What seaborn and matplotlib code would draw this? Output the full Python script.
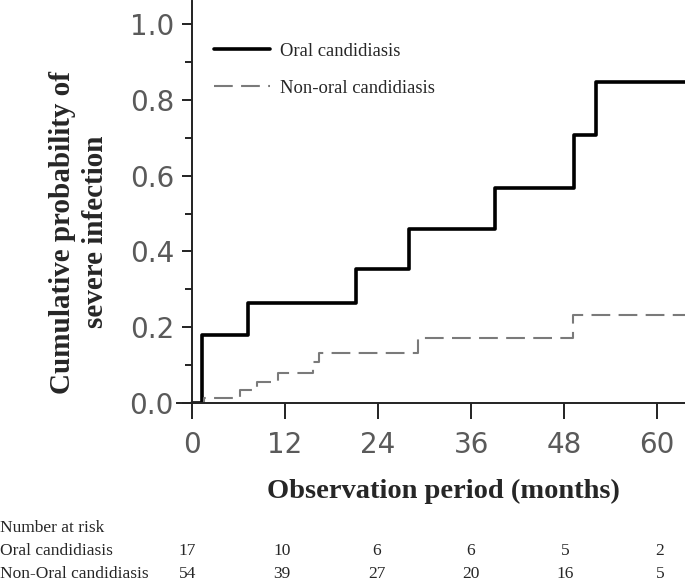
import numpy as np
import pandas as pd
import seaborn as sns
import matplotlib.pyplot as plt
from matplotlib.ticker import MultipleLocator

# Kaplan-Meier style cumulative incidence
oral_t = [0, 1.25, 7.2, 21.2, 28.0, 39.1, 49.3, 52.1, 63.6]
oral_p = [0, 0.179, 0.263, 0.353, 0.460, 0.567, 0.707, 0.848, 0.848]

non_oral_t = [0, 1.5, 6.2, 8.4, 11.1, 15.6, 16.4, 29.2, 49.2, 63.6]
non_oral_p = [0, 0.014, 0.035, 0.056, 0.078, 0.109, 0.133, 0.172, 0.232, 0.232]

risk_rows = ["Oral candidiasis", "Non-Oral candidiasis"]
risk_oral = [17, 10, 6, 6, 5, 2]
risk_non_oral = [54, 39, 27, 20, 16, 5]

serif = "Liberation Serif"

sns.set_style("ticks")
plt.rcParams['font.family'] = ['DejaVu Sans']

df_oral = pd.DataFrame({"t": oral_t, "p": oral_p})
df_non = pd.DataFrame({"t": non_oral_t, "p": non_oral_p})

fig = plt.figure(figsize=(6.85, 5.83), dpi=100)
ax = fig.add_axes([0.2577, 0.3087, 0.7423, 0.689])

sns.lineplot(data=df_oral, x="t", y="p", estimator=None, sort=False,
             drawstyle="steps-post", color="black", linewidth=2.6,
             label="Oral candidiasis", ax=ax)
sns.lineplot(data=df_non, x="t", y="p", estimator=None, sort=False,
             drawstyle="steps-post", color="#7a7a7a", linewidth=1.5,
             dashes=(9, 4), label="Non-oral candidiasis", ax=ax)

ax.set_xlim(-2, 63.6)
ax.set_ylim(0, 1.06)
ax.spines['left'].set_position(('data', 0))
ax.spines['top'].set_visible(False)
ax.spines['right'].set_visible(False)
for s in ['left', 'bottom']:
    ax.spines[s].set_linewidth(1.4)
    ax.spines[s].set_color("#222222")

ax.set_xticks([0, 12, 24, 36, 48, 60])
ax.set_yticks([0.0, 0.2, 0.4, 0.6, 0.8, 1.0])
ax.set_yticklabels(["0.0", "0.2", "0.4", "0.6", "0.8", "1.0"])
ax.yaxis.set_minor_locator(MultipleLocator(0.1))
ax.tick_params(axis='x', direction='out', length=11.5, width=1.4, color="#222222",
               labelsize=20, labelcolor="#5a5a5a", pad=8.5)
ax.tick_params(axis='y', which='major', direction='out', length=7, width=1.4,
               color="#222222", labelsize=20, labelcolor="#5a5a5a", pad=6)
ax.tick_params(axis='y', which='minor', direction='out', length=5, width=1.4,
               color="#222222")

ax.set_xlabel("Observation period (months)", fontfamily=serif,
              fontweight="bold", fontsize=20.5)
ax.xaxis.set_label_coords((443 - 176.5) / 508.5, (403 - 491) / 401.7)
ax.xaxis.label.set_va("center")
ax.set_ylabel("Cumulative probability of\nsevere infection", fontfamily=serif,
              fontweight="bold", fontsize=21, linespacing=1.25)
ax.yaxis.set_label_coords((79 - 176.5) / 508.5, (403 - 232) / 401.7)
ax.yaxis.label.set_va("center")

leg = ax.legend(loc="upper left", bbox_to_anchor=(0.06, 0.915), frameon=False,
                prop={"family": serif, "size": 13.4}, handlelength=3.0,
                handletextpad=0.5, labelspacing=1.05, borderaxespad=0)

# number at risk table
fs = 12.5
fig.text(0, 1 - 528 / 583, "Number at risk", fontfamily=serif, fontsize=fs,
         ha="left", va="center")
row_y = [551, 574]
for label, counts, y in zip(risk_rows, [risk_oral, risk_non_oral], row_y):
    fig.text(0, 1 - y / 583, label, fontfamily=serif, fontsize=fs,
             ha="left", va="center")
    for i, c in enumerate(counts):
        fig.text((187.5 + i * 94.5) / 685, 1 - y / 583, str(c), fontfamily=serif,
                 fontsize=fs, ha="center", va="center")

fig.savefig("out.png", dpi=100)
